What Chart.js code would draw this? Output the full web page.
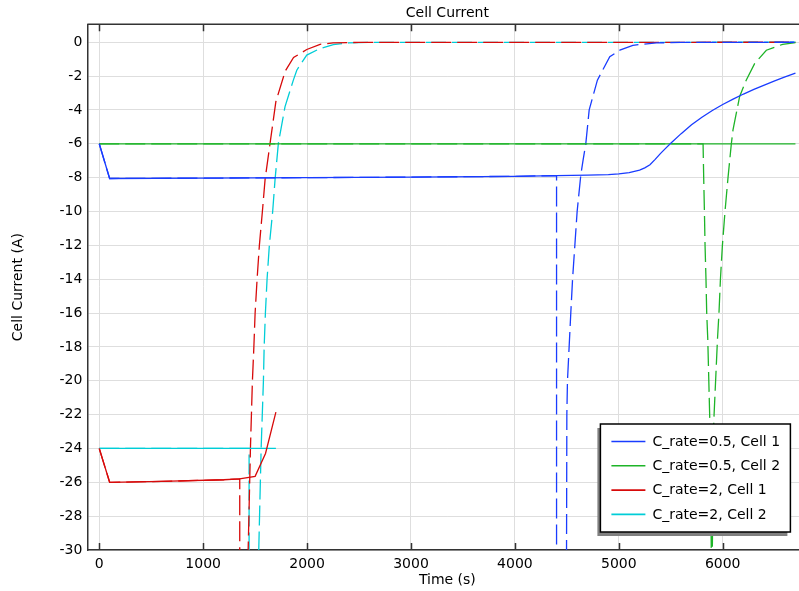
<!DOCTYPE html>
<html>
<head>
<meta charset="utf-8">
<script src="https://cdn.jsdelivr.net/npm/chart.js@4.4.1/dist/chart.umd.min.js"></script>
<style>
  html, body { margin: 0; padding: 0; background: #fff; overflow: hidden; }
  #wrap { width: 820px; height: 591px; }
</style>
</head>
<body>
<div id="wrap"><canvas id="myChart" width="820" height="591"></canvas></div>
<script>
const ctx = document.getElementById('myChart');

// tick labels
const xTicks = [0, 1000, 2000, 3000, 4000, 5000, 6000];
const yTicks = [0, -2, -4, -6, -8, -10, -12, -14, -16, -18, -20, -22, -24, -26, -28, -30];

// legend names
const names = ['C_rate=0.5, Cell 1', 'C_rate=0.5, Cell 2', 'C_rate=2, Cell 1', 'C_rate=2, Cell 2'];
const colors = ['rgb(25,60,255)', 'rgb(30,180,40)', 'rgb(215,10,10)', 'rgb(0,205,215)'];

// solid curves (time s, current A)
const tBlue = [0, 100, 1000, 2000, 3000, 4000, 4400, 4700, 4900, 5000, 5100, 5200, 5250, 5300, 5350, 5400, 5450, 5500, 5600, 5700, 5800, 5900, 6000, 6100, 6200, 6300, 6400, 6500, 6600, 6700];
const iBlue = [-6, -8.05, -8.03, -8.0, -7.97, -7.92, -7.88, -7.85, -7.82, -7.78, -7.7, -7.55, -7.42, -7.24, -6.92, -6.58, -6.27, -5.97, -5.4, -4.88, -4.43, -4.03, -3.68, -3.36, -3.06, -2.79, -2.53, -2.28, -2.05, -1.83];
const tGreen = [0, 6700];
const iGreen = [-6, -6];
const tRed = [0, 100, 600, 1200, 1350, 1500, 1600, 1700];
const iRed = [-24, -26, -25.95, -25.85, -25.8, -25.65, -24.3, -21.85];
const tCyan = [0, 1700];
const iCyan = [-24, -24];

// dashed curves
const tBlueD = [0, 100, 1000, 2000, 3000, 4000, 4401, 4401, 4497, 4497, 4500, 4506, 4522, 4538, 4555, 4577, 4599, 4635, 4657, 4683, 4715, 4794, 4913, 5010, 5135, 5362, 5600, 6700];
const iBlueD = [-6, -8.05, -8.03, -8.0, -7.97, -7.92, -7.88, -40, -40, -30, -22, -20, -18, -16, -14, -12, -10, -7.8, -6.94, -5.96, -4.0, -2.24, -0.86, -0.47, -0.18, -0.04, -0.01, 0];
const tGreenD = [0, 5811, 5817, 5824, 5830, 5839, 5846, 5856, 5876, 5890, 5895, 5900, 5914, 5950, 5964, 5978, 5997, 6022, 6051, 6083, 6099, 6163, 6226, 6308, 6420, 6577, 6700];
const iGreenD = [-6, -6, -8, -10, -12, -14, -16, -17.5, -22.4, -30, -40, -30, -22.4, -17.5, -16, -14, -12, -10, -8, -6, -5.18, -3.2, -2.24, -1.25, -0.47, -0.12, -0.02];
const tRedD = [0, 100, 600, 1200, 1352, 1352, 1433, 1433, 1455, 1474, 1488, 1500, 1519, 1541, 1570, 1596, 1644, 1700, 1790, 1870, 1997, 2125, 2250, 2500, 6700];
const iRedD = [-24, -26, -25.95, -25.85, -25.8, -40, -40, -30, -24, -20, -18, -16, -14, -12, -10, -8.1, -5.96, -3.5, -1.7, -0.9, -0.43, -0.12, -0.04, -0.01, 0];
const tCyanD = [0, 1442, 1442, 1535, 1535, 1558, 1580, 1587, 1599, 1615, 1637, 1669, 1692, 1724, 1788, 1868, 1901, 1997, 2125, 2253, 2400, 2600, 6700];
const iCyanD = [-24, -24, -40, -40, -30, -24, -20, -18, -16, -14, -12, -10, -8.1, -5.96, -3.8, -2.24, -1.65, -0.76, -0.37, -0.14, -0.04, -0.01, 0];

const pts = (t, v) => t.map((x, k) => ({x: x, y: v[k]}));

const solid = [[tBlue, iBlue], [tGreen, iGreen], [tRed, iRed], [tCyan, iCyan]];
const dashed = [[tBlueD, iBlueD], [tGreenD, iGreenD], [tRedD, iRedD], [tCyanD, iCyanD]];

const datasets = [];
solid.forEach((s, k) => datasets.push({
  label: names[k], data: pts(s[0], s[1]), borderColor: colors[k],
  borderWidth: 1.3, pointRadius: 0, tension: 0, inLegend: true
}));
dashed.forEach((s, k) => datasets.push({
  label: names[k] + ' (dashed)', data: pts(s[0], s[1]), borderColor: colors[k],
  borderWidth: 1.3, pointRadius: 0, tension: 0, borderDash: [20, 6]
}));

const FONT = '"DejaVu Sans", sans-serif';

// top frame line, inward tick marks and the boxed legend
const frame = {
  id: 'frame',
  afterDraw(chart) {
    const c = chart.ctx, a = chart.chartArea, sx = chart.scales.x;
    c.save();
    c.strokeStyle = '#333';
    c.lineWidth = 1.5;
    c.beginPath();
    c.moveTo(a.left, a.top); c.lineTo(a.right, a.top);
    sx.ticks.forEach(t => {
      const px = Math.round(sx.getPixelForValue(t.value)) + 0.5;
      c.moveTo(px, a.top); c.lineTo(px, a.top + 7);
      c.moveTo(px, a.bottom); c.lineTo(px, a.bottom - 7);
    });
    c.stroke();

    const items = chart.data.datasets.filter(d => d.inLegend);
    const w = 190, h = 108;
    const bx = a.right - 17 - w, by = a.bottom - 18 - h;
    c.fillStyle = '#808080';
    c.fillRect(bx - 3, by + 4, w, h);
    c.fillStyle = '#fff';
    c.fillRect(bx, by, w, h);
    c.strokeStyle = '#000';
    c.lineWidth = 1.5;
    c.strokeRect(bx, by, w, h);
    c.font = '14px ' + FONT;
    c.textBaseline = 'middle';
    items.forEach((d, k) => {
      const y = by + 17.5 + k * 24.3;
      c.strokeStyle = d.borderColor;
      c.lineWidth = 1.6;
      c.beginPath();
      c.moveTo(bx + 11, y); c.lineTo(bx + 45, y);
      c.stroke();
      c.fillStyle = '#000';
      c.fillText(d.label, bx + 52, y + 0.5);
    });
    c.restore();
  }
};

new Chart(ctx, {
  type: 'line',
  data: { datasets: datasets },
  plugins: [frame],
  options: {
    responsive: false,
    animation: false,
    layout: { padding: { right: 12.6 } },
    plugins: {
      legend: { display: false },
      tooltip: { enabled: false },
      title: {
        display: true,
        text: 'Cell Current',
        fullSize: false,
        color: '#000',
        font: { family: FONT, size: 14, weight: 'normal' },
        padding: { top: 4.5, bottom: 3 }
      }
    },
    scales: {
      x: {
        type: 'linear',
        min: -115,
        max: 6815,
        afterBuildTicks: s => { s.ticks = xTicks.map(v => ({value: v})); },
        afterFit: s => { s.height = 41; },
        ticks: {
          color: '#000', padding: 6, maxRotation: 0,
          font: { family: FONT, size: 14 },
          callback: v => String(v)
        },
        grid: { color: '#dedede', lineWidth: 1, drawTicks: false },
        border: { display: true, color: '#333', width: 1.5 },
        title: {
          display: true, text: 'Time (s)', color: '#000',
          font: { family: FONT, size: 14 },
          padding: { top: 0, bottom: 2.6 }
        }
      },
      y: {
        min: -30,
        max: 1.06,
        afterBuildTicks: s => { s.ticks = yTicks.map(v => ({value: v})); },
        afterFit: s => { s.width = 87.3; },
        ticks: {
          color: '#000', padding: 5,
          font: { family: FONT, size: 14 },
          callback: v => String(v)
        },
        grid: { color: '#dedede', lineWidth: 1, drawTicks: false },
        border: { display: true, color: '#333', width: 1.5 },
        title: {
          display: true, text: 'Cell Current (A)', color: '#000',
          font: { family: FONT, size: 14 },
          padding: { top: 9.5, bottom: 0 }
        }
      }
    }
  }
});
</script>
</body>
</html>
